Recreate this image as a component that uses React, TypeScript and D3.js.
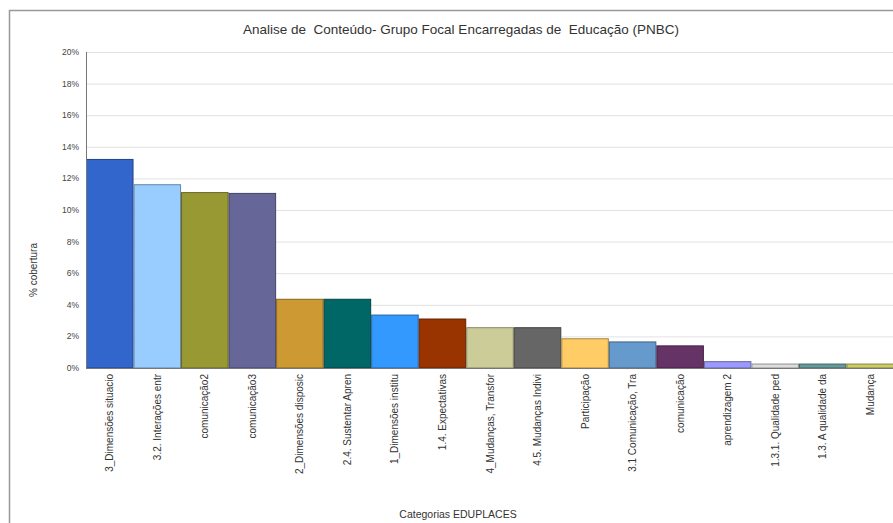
import React from "react";
import * as d3 from "d3";

const categories = [
  "3_Dimensões situacio",
  "3.2. Interações entr",
  "comunicação2",
  "comunicação3",
  "2_Dimensões disposic",
  "2.4. Sustentar Apren",
  "1_Dimensões institu",
  "1.4. Expectativas",
  "4_Mudanças, Transfor",
  "4.5. Mudanças Indivi",
  "Participação",
  "3.1 Comunicação, Tra",
  "comunicação",
  "aprendizagem 2",
  "1.3.1. Qualidade ped",
  "1.3. A qualidade da",
  "Mudança",
];
const values = [13.2, 11.6, 11.1, 11.05, 4.35, 4.35, 3.35, 3.1, 2.55, 2.55, 1.85, 1.65, 1.4, 0.4, 0.25, 0.25, 0.25];
const colors = [
  "#3366cc", "#99ccff", "#999933", "#666699", "#cc9933", "#006666", "#3399ff", "#993300",
  "#cccc99", "#666666", "#ffcc66", "#6699cc", "#663366", "#9999ff", "#dddddd", "#669999", "#cccc66",
];
const yTicks = [0, 2, 4, 6, 8, 10, 12, 14, 16, 18, 20];
const title = "Analise de  Conteúdo- Grupo Focal Encarregadas de  Educação (PNBC)";
const xTitle = "Categorias EDUPLACES";
const yTitle = "% cobertura";

export default function App() {
  const W = 893, H = 523;
  const x = d3.scaleBand<string>().domain(categories).range([86, 894]).padding(0);
  const y = d3.scaleLinear().domain([0, 20]).range([368, 52]);
  const font = "Liberation Sans, Arial, sans-serif";
  return (
    <svg width={W} height={H} style={{ position: "absolute", left: 0, top: 0, background: "#fff" }} fontFamily={font}>
      <rect x={9.5} y={10.5} width={W} height={H} fill="#fff" stroke="#999" strokeWidth={1.5} />
      <text x={461} y={34} textAnchor="middle" fontSize={13.5} fill="#333" style={{ whiteSpace: "pre" }}>{title}</text>
      {yTicks.map((t) => (
        <g key={t}>
          {t > 0 && <line x1={86} x2={W} y1={y(t) + 0.5} y2={y(t) + 0.5} stroke="#e2e2e2" />}
          <text x={79} y={y(t) + 3} textAnchor="end" fontSize={8.5} fill="#444">{t}%</text>
        </g>
      ))}
      {categories.map((c, i) => {
        const x0 = x(c)!;
        return (
          <rect key={c} x={x0 + 0.5} y={y(values[i])} width={x.bandwidth() - 1} height={y(0) - y(values[i])}
            fill={colors[i]} stroke={d3.color(colors[i])!.darker(1.2).toString()} strokeWidth={1} />
        );
      })}
      <line x1={86.5} x2={86.5} y1={52} y2={368} stroke="#777" />
      <line x1={86} x2={W} y1={368.5} y2={368.5} stroke="#777" />
      {categories.map((c) => {
        const cx = x(c)! + x.bandwidth() / 2 + 3.5;
        return (
          <text key={c} transform={`translate(${cx},${374}) rotate(-90)`} textAnchor="end" fontSize={10} fill="#333">{c}</text>
        );
      })}
      <text transform={`translate(37,270) rotate(-90)`} textAnchor="middle" fontSize={10} fill="#333">{yTitle}</text>
      <text x={458} y={518} textAnchor="middle" fontSize={10.5} fill="#333">{xTitle}</text>
    </svg>
  );
}
